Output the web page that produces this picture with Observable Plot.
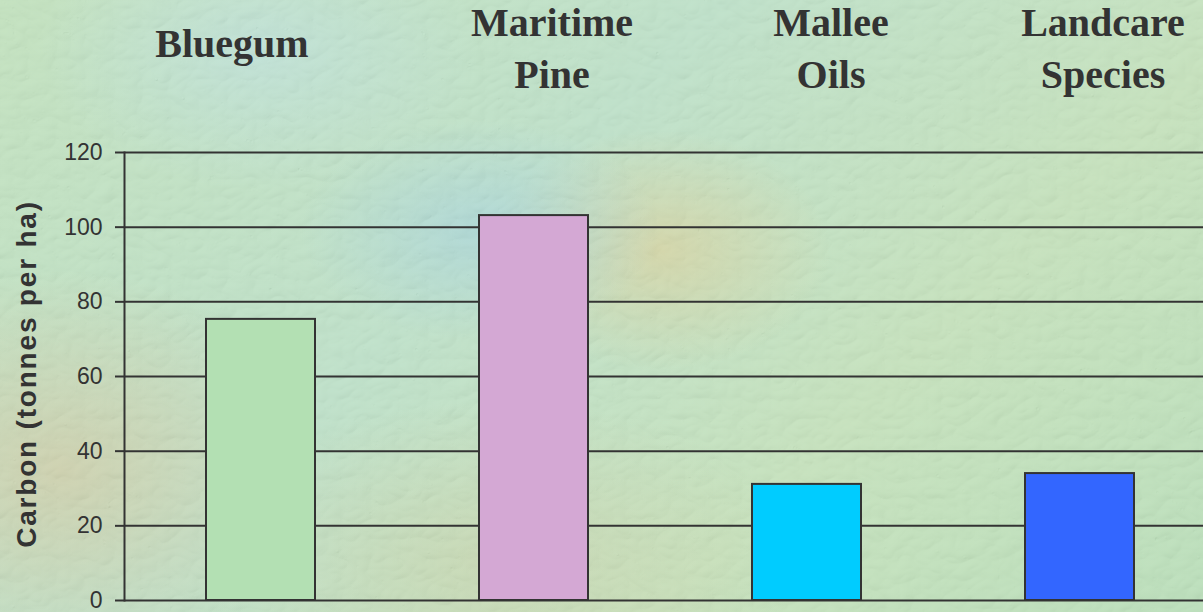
<!DOCTYPE html>
<html>
<head>
<meta charset="utf-8">
<script src="https://cdn.jsdelivr.net/npm/d3@7"></script>
<script src="https://cdn.jsdelivr.net/npm/@observablehq/plot@0.6"></script>
<style>
  html, body { margin: 0; padding: 0; }
  body { width: 1203px; height: 612px; overflow: hidden; position: relative;
    background:
      radial-gradient(ellipse 180px 110px at 480px 230px, rgba(160,208,215,0.7), rgba(160,208,215,0) 100%),
      radial-gradient(ellipse 170px 120px at 660px 250px, rgba(214,206,150,0.75), rgba(214,206,150,0) 100%),
      radial-gradient(ellipse 220px 140px at 260px 50px, rgba(185,222,215,0.8), rgba(185,222,215,0) 100%),
      radial-gradient(ellipse 260px 200px at 60px 470px, rgba(205,200,160,0.8), rgba(205,200,160,0) 100%),
      radial-gradient(ellipse 300px 160px at 500px 560px, rgba(200,205,160,0.55), rgba(200,205,160,0) 100%),
      linear-gradient(135deg, #bddfb8 0%, #b8dec4 40%, #c0dfb6 70%, #b4dcb4 100%);
  }
  #bg { position: absolute; left: 0; top: 0; }
  #chart { position: absolute; left: 0; top: 0; }
</style>
</head>
<body>
<svg id="bg" width="1203" height="612">
  <defs>
    <filter id="tex" x="0" y="0" width="100%" height="100%">
      <feTurbulence type="turbulence" baseFrequency="0.035 0.05" numOctaves="2" seed="7" result="n"/>
      <feColorMatrix in="n" type="luminanceToAlpha" result="a"/>
      <feDiffuseLighting in="a" surfaceScale="3" lighting-color="#ffffff" result="l">
        <feDistantLight azimuth="235" elevation="60"/>
      </feDiffuseLighting>
    </filter>
  </defs>
  <rect width="1203" height="612" filter="url(#tex)" opacity="0.14"/>
</svg>
<div id="chart"></div>
<script>
const categories = ["Bluegum", "Maritime Pine", "Mallee Oils", "Landcare Species"];
const labelText = ["Bluegum", "Maritime\nPine", "Mallee\nOils", "Landcare\nSpecies"];
const carbon = [75.3, 103.1, 31.1, 34.0];
const barColors = ["#b3e0b3", "#d4a8d4", "#00ccff", "#3366ff"];
const yTicks = [0, 20, 40, 60, 80, 100, 120];
const yLabel = "Carbon (tonnes per ha)";

const data = categories.map((c, i) => ({category: c, value: carbon[i]}));

// label placement (layout only)
const labelDx = [-29, 18, 24, 23];
const labelDy = [-132, -153, -153, -153];

const labelMarks = categories.map((c, i) =>
  Plot.text([labelText[i]], {
    x: () => c,
    text: d => d,
    frameAnchor: "top",
    lineAnchor: "top",
    lineHeight: 1.3,
    dx: labelDx[i],
    dy: labelDy[i],
    fontFamily: "'Liberation Serif', 'Times New Roman', serif",
    fontWeight: "bold",
    fontSize: 40,
    fill: "#333333"
  })
);

const chart = Plot.plot({
  width: 1203,
  height: 612,
  marginLeft: 124,
  marginRight: 0,
  marginTop: 152,
  marginBottom: 12,
  style: {background: "transparent", overflow: "visible"},
  x: {domain: categories, range: [124, 1216], paddingInner: 0.6, paddingOuter: 0.3, axis: null},
  y: {domain: [0, 120], axis: null},
  color: {domain: categories, range: barColors},
  marks: [
    Plot.ruleY(yTicks, {y: d => d, stroke: "#333333", strokeWidth: 2}),
    Plot.barY(data, {x: "category", y: "value", fill: "category", stroke: "#333333", strokeWidth: 2}),
    Plot.axisY({
      ticks: yTicks,
      tickSize: 9,
      tickPadding: 13,
      tickFormat: d => String(d),
      fontSize: 23,
      fontFamily: "'Liberation Sans', Arial, sans-serif",
      fill: "#333333",
      stroke: "#333333",
      strokeWidth: 2,
      strokeOpacity: 1,
      label: null
    }),
    Plot.frame({anchor: "left", stroke: "#333333", strokeWidth: 2}),
    ...labelMarks
  ]
});

// y axis title
const svg = d3.select(chart);
svg.append("text")
  .attr("transform", "translate(36,374) rotate(-90)")
  .attr("text-anchor", "middle")
  .attr("font-family", "'Liberation Sans', Arial, sans-serif")
  .attr("font-weight", "bold")
  .attr("font-size", 28)
  .attr("letter-spacing", "1.8px")
  .attr("fill", "#333333")
  .text(yLabel);

document.getElementById("chart").appendChild(chart);
</script>
</body>
</html>
